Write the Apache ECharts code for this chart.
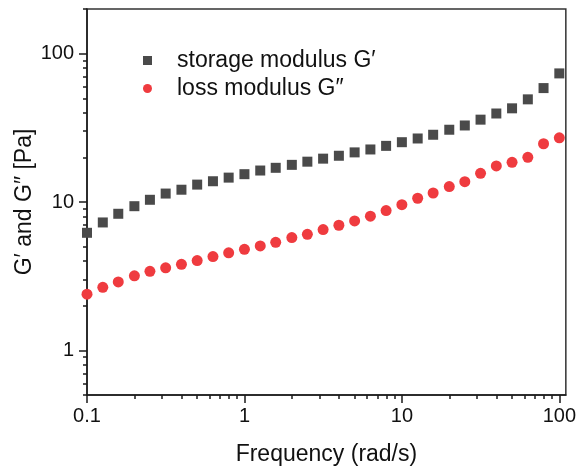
<!DOCTYPE html>
<html>
<head>
<meta charset="utf-8">
<script src="https://cdn.jsdelivr.net/npm/echarts@6/dist/echarts.min.js"></script>
<style>
  html, body { margin: 0; padding: 0; background: #fff; }
  #main { width: 579px; height: 472px; }
</style>
</head>
<body>
<div id="main"></div>
<script>
// angular frequency (rad/s), 10 points per decade
const freq = [
  0.1, 0.126, 0.158, 0.2, 0.251, 0.316, 0.398, 0.501, 0.631, 0.794,
  1, 1.26, 1.58, 2, 2.51, 3.16, 3.98, 5.01, 6.31, 7.94,
  10, 12.6, 15.8, 20, 25.1, 31.6, 39.8, 50.1, 63.1, 79.4, 100
]
// storage modulus G' (Pa)
const storage = [
  6.2, 7.28, 8.33, 9.37, 10.35, 11.4, 12.1, 13.1, 13.8, 14.6,
  15.4, 16.3, 17.0, 17.8, 18.7, 19.6, 20.5, 21.6, 22.6, 23.9,
  25.3, 26.8, 28.4, 30.7, 32.8, 35.9, 39.5, 42.8, 49.2, 58.6, 73.6
]
// loss modulus G'' (Pa)
const loss = [
  2.39, 2.66, 2.89, 3.18, 3.41, 3.6, 3.8, 4.03, 4.29, 4.54,
  4.8, 5.06, 5.35, 5.76, 6.06, 6.52, 6.97, 7.46, 8.02, 8.76,
  9.6, 10.6, 11.5, 12.7, 13.7, 15.6, 17.5, 18.5, 20.0, 24.7, 27.1
]
const xMajor = [0.1, 1, 10, 100]
const xMinor = [0.2, 0.3, 0.4, 0.5, 0.6, 0.7, 0.8, 0.9, 2, 3, 4, 5, 6, 7, 8, 9, 20, 30, 40, 50, 60, 70, 80, 90]
const yMajor = [1, 10, 100]
const yMinor = [0.5, 0.6, 0.7, 0.8, 0.9, 2, 3, 4, 5, 6, 7, 8, 9, 20, 30, 40, 50, 60, 70, 80, 90, 200]

const font = 'Liberation Sans, Arial, sans-serif'
const lineColor = '#1a1a1a'

const chart = echarts.init(document.getElementById('main'))

function majorAxis(min, max, ticks, extra) {
  return Object.assign({
    type: 'log',
    logBase: 10,
    min: min,
    max: max,
    splitLine: { show: false },
    axisLine: { show: true, onZero: false, lineStyle: { color: lineColor, width: 1.5 } },
    axisTick: { show: true, inside: false, length: 8, customValues: ticks, lineStyle: { color: lineColor, width: 1.5 } }
  }, extra)
}
function minorAxis(min, max, ticks) {
  return {
    type: 'log',
    logBase: 10,
    min: min,
    max: max,
    splitLine: { show: false },
    axisLine: { show: false },
    axisTick: { show: true, inside: false, length: 4, customValues: ticks, lineStyle: { color: lineColor, width: 1.5 } },
    axisLabel: { show: false }
  }
}

let option = {
  backgroundColor: '#fff',
  animation: false,
  grid: {
    left: 87, right: 13, top: 9, bottom: 77,
    show: true, borderColor: '#333', borderWidth: 1.5
  },
  legend: {
    orient: 'vertical',
    left: 138,
    top: 44,
    itemWidth: 9,
    itemHeight: 9,
    itemGap: 5,
    textStyle: { fontSize: 23, fontFamily: font, color: '#111', lineHeight: 23, padding: [0, 0, 0, 20] },
    data: [
      { name: 'storage modulus G′', icon: 'rect' },
      { name: 'loss modulus G″', icon: 'circle' }
    ]
  },
  xAxis: [
    majorAxis(0.1, 110, xMajor, {
      position: 'bottom',
      name: 'Frequency (rad/s)',
      nameLocation: 'middle',
      nameGap: 48,
      nameMoveOverlap: false,
      nameTextStyle: { fontSize: 23, fontFamily: font, color: '#111' },
      axisLabel: {
        show: true, customValues: xMajor, fontSize: 20, fontFamily: font, color: '#111', margin: 11,
        formatter: v => String(v)
      }
    }),
    Object.assign(minorAxis(0.1, 110, xMinor), { position: 'bottom' })
  ],
  yAxis: [
    majorAxis(0.5, 200, yMajor, {
      position: 'left',
      name: 'G′ and G″ [Pa]',
      nameLocation: 'middle',
      nameGap: 51,
      nameMoveOverlap: false,
      nameTextStyle: { fontSize: 23, fontFamily: font, color: '#111' },
      axisLabel: {
        show: true, customValues: yMajor, fontSize: 20, fontFamily: font, color: '#111', margin: 13,
        formatter: v => String(v)
      }
    }),
    Object.assign(minorAxis(0.5, 200, yMinor), { position: 'left' })
  ],
  series: [
    {
      name: 'storage modulus G′',
      type: 'scatter',
      symbol: 'rect',
      symbolSize: 10,
      itemStyle: { color: '#4a4a4a', opacity: 1 },
      data: freq.map((f, i) => [f, storage[i]])
    },
    {
      name: 'loss modulus G″',
      type: 'scatter',
      symbol: 'circle',
      symbolSize: 11,
      itemStyle: { color: '#ef3b3f', opacity: 1 },
      data: freq.map((f, i) => [f, loss[i]])
    }
  ]
}
chart.setOption(option)
</script>
</body>
</html>
